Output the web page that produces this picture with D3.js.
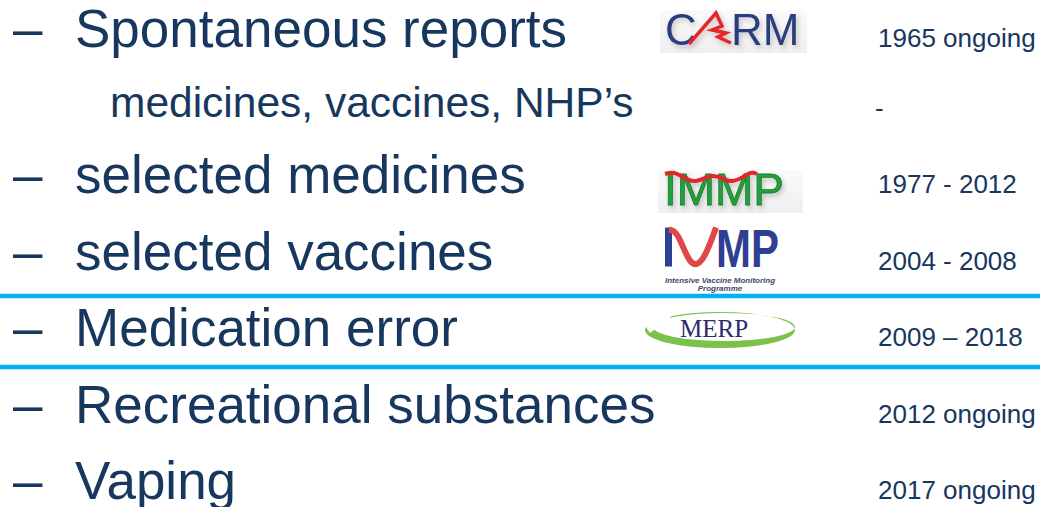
<!DOCTYPE html>
<html>
<head>
<meta charset="utf-8">
<script src="https://cdn.jsdelivr.net/npm/d3@7"></script>
<style>
  html, body { margin: 0; padding: 0; background: #fff; }
  svg { display: block; }
</style>
</head>
<body>
<svg id="slide"></svg>
<script>
// slide content
const labels = ["Spontaneous reports", "medicines, vaccines, NHP\u2019s", "selected medicines",
  "selected vaccines", "Medication error", "Recreational substances", "Vaping"];
const levels = [1, 2, 1, 1, 1, 1, 1];
const periods = ["1965 ongoing", "-", "1977 - 2012", "2004 - 2008", "2009 \u2013 2018", "2012 ongoing", "2017 ongoing"];
const logos = ["CARM", null, "IMMP", "IVMP", "MERP", null, null];
const boxedRows = [4];

const width = 1040, height = 507;
const textColor = "#17375e";
const font = "'Liberation Sans', Arial, sans-serif";

const svg = d3.select("#slide").attr("width", width).attr("height", height);

// row baselines
const y = d3.scaleLinear().domain([0, 1, 2, 6]).range([47, 117, 193, 499]);

const defs = svg.append("defs");
let shadow = defs.append("filter").attr("id", "shadow")
  .attr("x", "-20%").attr("y", "-20%").attr("width", "150%").attr("height", "160%");
shadow.append("feDropShadow").attr("dx", 2).attr("dy", 3).attr("stdDeviation", 2.5)
  .attr("flood-color", "#000").attr("flood-opacity", 0.2);
let bg = defs.append("linearGradient").attr("id", "logoBg").attr("x1", 0).attr("y1", 0).attr("x2", 0).attr("y2", 1);
bg.append("stop").attr("offset", "0%").attr("stop-color", "#fafafa");
bg.append("stop").attr("offset", "100%").attr("stop-color", "#efefef");

const rows = labels.map((d, i) => ({label: d, level: levels[i], period: periods[i], logo: logos[i], i: i}));

// blue rules around the boxed item
svg.selectAll(".rule")
  .data(boxedRows.flatMap(r => [y(r) - 50, y(r) + 21]))
  .enter()
  .append("line")
    .classed("rule", true)
    .attr("x1", 0).attr("x2", width)
    .attr("y1", d => d).attr("y2", d => d)
    .attr("stroke", "#00b0f0")
    .attr("stroke-width", 4.5);

// dashes
svg.selectAll(".dash")
  .data(rows.filter(d => d.level === 1))
  .enter()
  .append("text")
    .classed("dash", true)
    .attr("x", 13)
    .attr("y", d => y(d.i))
    .style("font-family", font)
    .style("font-size", "53px")
    .attr("fill", textColor)
    .text("\u2013");

svg.selectAll(".label")
  .data(rows)
  .enter()
  .append("text")
    .classed("label", true)
    .attr("x", d => d.level === 1 ? 75 : 110)
    .attr("y", d => y(d.i))
    .style("font-family", font)
    .style("font-size", d => d.level === 1 ? "53px" : "42.5px")
    .attr("fill", textColor)
    .text(d => d.label);

svg.selectAll(".period")
  .data(rows)
  .enter()
  .append("text")
    .classed("period", true)
    .attr("x", d => d.period === "-" ? 875 : 878)
    .attr("y", d => y(d.i))
    .style("font-family", font)
    .style("font-size", "26px")
    .attr("fill", textColor)
    .text(d => d.period);

// logos, drawn relative to the row baseline
const curve = d3.line().curve(d3.curveBasis);

function drawCarm(g) {
  g.append("rect").attr("x", 660).attr("y", -37).attr("width", 147).attr("height", 43).attr("fill", "url(#logoBg)");
  let t = g.append("g").attr("filter", "url(#shadow)");
  t.append("text").attr("x", 665).attr("y", -2).style("font-family", font).style("font-size", "44px")
    .attr("fill", "#2c3e7c").text("C");
  t.append("polyline")
    .attr("points", [[689, -3], [716, -34], [722, -21], [712, -17], [726, -14], [718, -10], [731, -4]].join(" "))
    .attr("fill", "none").attr("stroke", "#e8262a").attr("stroke-width", 3.5).attr("stroke-linejoin", "miter");
  t.append("text").attr("x", 731).attr("y", -2).style("font-family", font).style("font-size", "44px")
    .attr("fill", "#2c3e7c").text("RM");
}

function drawImmp(g) {
  g.append("rect").attr("x", 658).attr("y", -23).attr("width", 145).attr("height", 43).attr("fill", "url(#logoBg)");
  let t = g.append("g").attr("filter", "url(#shadow)");
  t.append("text").attr("x", 664).attr("y", 12).style("font-family", font).style("font-size", "45px")
    .attr("textLength", 120).attr("lengthAdjust", "spacingAndGlyphs")
    .attr("fill", "#23a03c").attr("stroke", "#1b7f2f").attr("stroke-width", 0.8).text("IMMP");
  t.append("path")
    .attr("d", curve([[665, -19], [676, -22], [694, -7], [713, -22], [732, -7], [750, -22], [757, -19]]))
    .attr("fill", "none").attr("stroke", "#e3262b").attr("stroke-width", 4);
}

function drawIvmp(g) {
  const blue = "#2f3f93";
  g.append("rect").attr("x", 665).attr("y", -42).attr("width", 7).attr("height", 39).attr("fill", blue);
  g.append("path")
    .attr("d", curve([[669, -40], [678, -38], [690, -2], [703, -6], [716, -42]]))
    .attr("fill", "none").attr("stroke", "#e0474b").attr("stroke-width", 6);
  g.append("text").attr("x", 716).attr("y", -3).style("font-family", font).style("font-size", "54px")
    .style("font-weight", "bold").attr("textLength", 63).attr("lengthAdjust", "spacingAndGlyphs")
    .attr("fill", blue).text("MP");
  g.append("text").attr("x", 720).attr("y", 13).attr("text-anchor", "middle")
    .style("font-family", font).style("font-size", "8px").style("font-style", "italic").style("font-weight", "bold")
    .attr("textLength", 110).attr("lengthAdjust", "spacingAndGlyphs")
    .attr("fill", "#3d4a6b").text("Intensive Vaccine Monitoring");
  g.append("text").attr("x", 720).attr("y", 21).attr("text-anchor", "middle")
    .style("font-family", font).style("font-size", "8px").style("font-style", "italic").style("font-weight", "bold")
    .attr("fill", "#3d4a6b").text("Programme");
}

function ellipsePath(cx, cy, rx, ry) {
  return `M${cx - rx},${cy} a${rx},${ry} 0 1,0 ${2 * rx},0 a${rx},${ry} 0 1,0 ${-2 * rx},0 Z`;
}

function drawMerp(g) {
  g.append("path")
    .attr("d", ellipsePath(720, -16, 75, 18) + " " + ellipsePath(724, -19, 71, 14))
    .attr("fill-rule", "evenodd")
    .attr("fill", "#7cc24a");
  // opening of the swoosh at the upper left
  g.append("polygon")
    .attr("points", [[644, -22], [668, -38], [672, -30], [650, -13]].join(" "))
    .attr("fill", "#fff");
  g.append("text").attr("x", 680).attr("y", -9)
    .style("font-family", "'Liberation Serif', 'Times New Roman', serif").style("font-size", "25px")
    .attr("fill", "#2d2a6e").text("MERP");
}

const logoDrawers = {CARM: drawCarm, IMMP: drawImmp, IVMP: drawIvmp, MERP: drawMerp};

svg.selectAll(".logo")
  .data(rows.filter(d => d.logo))
  .enter()
  .append("g")
    .classed("logo", true)
    .attr("transform", d => `translate(0, ${y(d.i)})`)
    .each(function(d) { logoDrawers[d.logo](d3.select(this)); });
</script>
</body>
</html>
